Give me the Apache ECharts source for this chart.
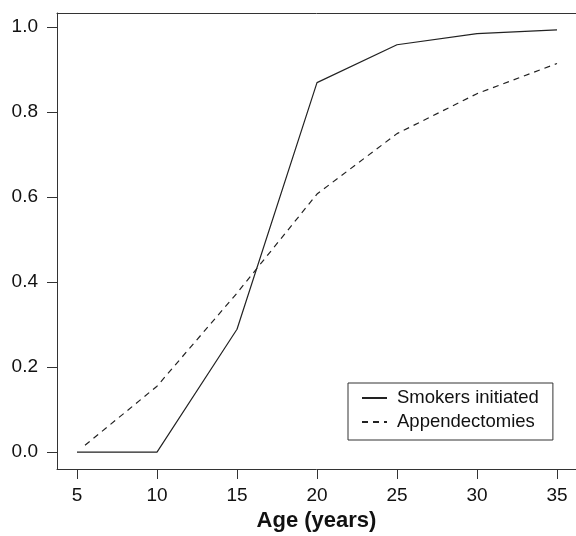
<!DOCTYPE html>
<html>
<head>
<meta charset="utf-8">
<script src="https://cdn.jsdelivr.net/npm/echarts@6/dist/echarts.min.js"></script>
<style>
  html, body { margin: 0; padding: 0; background: #fff; }
  #main { width: 576px; height: 536px; }
</style>
</head>
<body>
<div id="main"></div>
<script>
// values
const ages = [5, 10, 15, 20, 25, 30, 35];
const smokersInitiated = [0, 0, 0.289, 0.869, 0.958, 0.984, 0.993];
const appendAges = [5.5, 10, 15, 20, 25, 30, 35];
const appendectomies = [0.016, 0.155, 0.374, 0.607, 0.749, 0.843, 0.914];
const xTicks = [5, 10, 15, 20, 25, 30, 35];
const yTicks = [0, 0.2, 0.4, 0.6, 0.8, 1.0];

const font = 'Liberation Sans, Arial, sans-serif';
const ink = '#222';
const frame = { show: true, onZero: false, lineStyle: { color: '#333', width: 1 } };

const option = {
  backgroundColor: '#fff',
  animation: false,
  grid: {
    left: 57,
    right: 0,
    top: 13,
    bottom: 67,
    outerBoundsMode: 'none'
  },
  xAxis: [
    {
      type: 'value',
      position: 'bottom',
      min: 3.75,
      max: 36.1875,
      name: 'Age (years)',
      nameLocation: 'middle',
      nameGap: 38,
      nameTextStyle: { fontFamily: font, fontSize: 22, fontWeight: 'bold', color: '#111' },
      axisLine: frame,
      splitLine: { show: false },
      axisTick: { show: true, length: 10, customValues: xTicks, lineStyle: { color: '#333' } },
      axisLabel: {
        customValues: xTicks,
        margin: 17,
        fontFamily: font,
        fontSize: 19,
        color: '#111'
      }
    },
    {
      // top edge of the box only
      type: 'value',
      position: 'top',
      min: 3.75,
      max: 36.1875,
      axisLine: frame,
      axisTick: { show: false },
      axisLabel: { show: false },
      splitLine: { show: false }
    }
  ],
  yAxis: {
    type: 'value',
    min: -0.0397,
    max: 1.0327,
    axisLine: frame,
    splitLine: { show: false },
    axisTick: { show: true, length: 10, customValues: yTicks, lineStyle: { color: '#333' } },
    axisLabel: {
      customValues: yTicks,
      margin: 19,
      fontFamily: font,
      fontSize: 19,
      color: '#111',
      formatter: v => v.toFixed(1)
    }
  },
  legend: {
    orient: 'vertical',
    left: 348,
    top: 383,
    padding: [5, 14, 8, 13],
    itemGap: 4,
    itemWidth: 25,
    itemHeight: 14,
    borderColor: '#333',
    borderWidth: 1,
    itemStyle: { opacity: 0 },
    textStyle: { fontFamily: font, fontSize: 18.5, color: '#111', lineHeight: 20, padding: [0, 0, 0, 5] },
    data: ['Smokers initiated', 'Appendectomies']
  },
  series: [
    {
      name: 'Smokers initiated',
      type: 'line',
      data: ages.map((a, i) => [a, smokersInitiated[i]]),
      symbol: 'none',
      lineStyle: { color: ink, width: 1.2 },
      itemStyle: { color: ink }
    },
    {
      name: 'Appendectomies',
      type: 'line',
      data: appendAges.map((a, i) => [a, appendectomies[i]]),
      symbol: 'none',
      lineStyle: { color: ink, width: 1.2, type: [6, 5] },
      itemStyle: { color: ink }
    }
  ]
};

let myChart = echarts.init(document.getElementById('main'), null, { renderer: 'canvas' });
myChart.setOption(option);
</script>
</body>
</html>
